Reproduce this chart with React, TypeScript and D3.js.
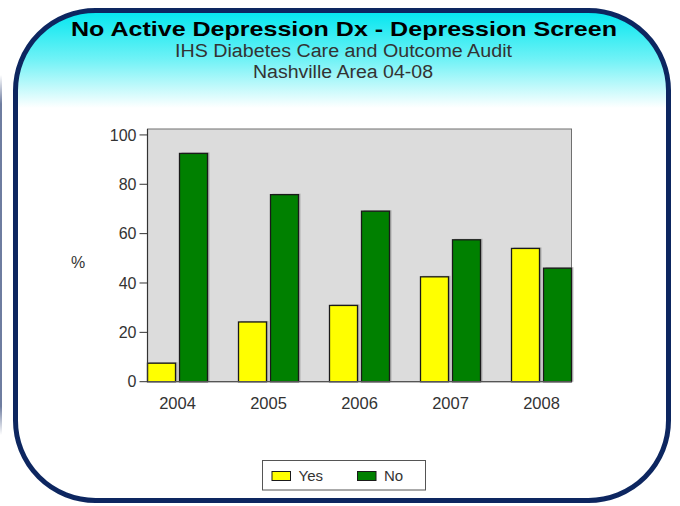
import React from "react";
import * as d3 from "d3";

// Depression screening among patients without an active depression diagnosis
const years = ["2004", "2005", "2006", "2007", "2008"];
const yesValues = [7.5, 24.2, 30.9, 42.5, 54.0];
const noValues = [92.5, 75.8, 69.1, 57.5, 46.0];
const yTicks = [0, 20, 40, 60, 80, 100];
const seriesNames = ["Yes", "No"];
const seriesColors = ["#FFFF00", "#008000"];

const W = 680;
const H = 506;
const plot = { left: 147.5, right: 571.5, top: 129, bottom: 381.7 };
const FONT = "'Liberation Sans', Arial, sans-serif";

export default function App() {
  const y = d3.scaleLinear().domain([0, 102.4]).range([plot.bottom, plot.top]);
  const x = d3
    .scalePoint<string>()
    .domain(years)
    .range([plot.left + 30, plot.right - 30]);
  const barW = 28;
  const gap = 2;

  const series = [yesValues, noValues];

  return (
    <svg
      width={W}
      height={H}
      viewBox={`0 0 ${W} ${H}`}
      style={{ position: "absolute", left: 0, top: 0, display: "block" }}
      fontFamily={FONT}
    >
      <defs>
        <linearGradient id="panelFill" x1="0" y1="10" x2="0" y2="108" gradientUnits="userSpaceOnUse">
          <stop offset="0" stopColor="#00E6EF" />
          <stop offset="0.5" stopColor="#6FF2F6" />
          <stop offset="1" stopColor="#FFFFFF" />
        </linearGradient>
        <linearGradient id="edgeFade" x1="0" y1="75" x2="0" y2="435" gradientUnits="userSpaceOnUse">
          <stop offset="0" stopColor="#4A5C88" stopOpacity="0" />
          <stop offset="0.08" stopColor="#4A5C88" stopOpacity="0.8" />
          <stop offset="0.92" stopColor="#4A5C88" stopOpacity="0.8" />
          <stop offset="1" stopColor="#4A5C88" stopOpacity="0" />
        </linearGradient>
        <filter id="soft" x="-5%" y="-5%" width="110%" height="110%">
          <feGaussianBlur stdDeviation="0.6" />
        </filter>
      </defs>

      <rect x={0} y={0} width={W} height={H} fill="#FFFFFF" />

      {/* neighbouring panel edge at the far left */}
      <rect x={0} y={75} width={2} height={360} fill="url(#edgeFade)" />

      {/* rounded panel */}
      <rect x={15.5} y={10.5} width={653} height={490} rx={80} ry={80} fill="url(#panelFill)" />
      <rect
        x={15.5}
        y={10.5}
        width={653}
        height={490}
        rx={80}
        ry={80}
        fill="none"
        stroke="#0E2860"
        strokeWidth={5}
        filter="url(#soft)"
      />

      {/* titles */}
      <text
        x={344}
        y={36}
        textAnchor="middle"
        fontSize={21}
        fontWeight="bold"
        fill="#000"
        textLength={546}
        lengthAdjust="spacingAndGlyphs"
      >
        No Active Depression Dx - Depression Screen
      </text>
      <text x={343.5} y={57} textAnchor="middle" fontSize={18} fill="#333" textLength={337} lengthAdjust="spacingAndGlyphs">
        IHS Diabetes Care and Outcome Audit
      </text>
      <text x={343} y={78} textAnchor="middle" fontSize={18} fill="#333" textLength={180} lengthAdjust="spacingAndGlyphs">
        Nashville Area 04-08
      </text>

      {/* plot area */}
      <rect
        x={plot.left}
        y={plot.top}
        width={plot.right - plot.left}
        height={plot.bottom - plot.top}
        fill="#DCDCDC"
        stroke="#707070"
        strokeWidth={1}
      />

      {/* bars */}
      {years.map((yr, i) => {
        const cx = x(yr) as number;
        return series.map((vals, s) => {
          const bx = s === 0 ? cx - gap - barW : cx + gap;
          const top = y(vals[i]);
          const h = plot.bottom - top;
          return (
            <g key={`${yr}-${s}`}>
              <rect x={bx + 2} y={top - 1} width={barW} height={h + 1} fill="#8A8A8A" opacity={0.55} />
              <rect
                x={bx}
                y={top}
                width={barW}
                height={h}
                fill={seriesColors[s]}
                stroke="#1A1A1A"
                strokeWidth={1.3}
              />
            </g>
          );
        });
      })}

      {/* axes */}
      <line x1={plot.left} y1={plot.top} x2={plot.left} y2={plot.bottom} stroke="#333" strokeWidth={1.2} />
      <line x1={plot.left} y1={plot.bottom} x2={plot.right} y2={plot.bottom} stroke="#555" strokeWidth={1.2} />

      {yTicks.map((t) => (
        <g key={t}>
          <line x1={plot.left - 8} x2={plot.left} y1={y(t)} y2={y(t)} stroke="#333" strokeWidth={1} />
          <text x={plot.left - 11} y={y(t)} dy="0.36em" textAnchor="end" fontSize={16} fill="#333">
            {t}
          </text>
        </g>
      ))}

      {years.map((yr) => (
        <text key={yr} x={x(yr) as number} y={409} textAnchor="middle" fontSize={16.5} fill="#333">
          {yr}
        </text>
      ))}

      <text x={78} y={262} dy="0.36em" textAnchor="middle" fontSize={16} fill="#333">
        %
      </text>

      {/* legend */}
      <rect x={262.5} y={460.5} width={163} height={29.5} fill="#FFFFFF" stroke="#555" strokeWidth={1} />
      {seriesNames.map((name, s) => {
        const lx = 272 + s * 85.5;
        return (
          <g key={name}>
            <rect x={lx} y={471.5} width={18.5} height={9} fill={seriesColors[s]} stroke="#1A1A1A" strokeWidth={1} />
            <text x={lx + 26.5} y={476} dy="0.36em" fontSize={15} fill="#333">
              {name}
            </text>
          </g>
        );
      })}
    </svg>
  );
}
